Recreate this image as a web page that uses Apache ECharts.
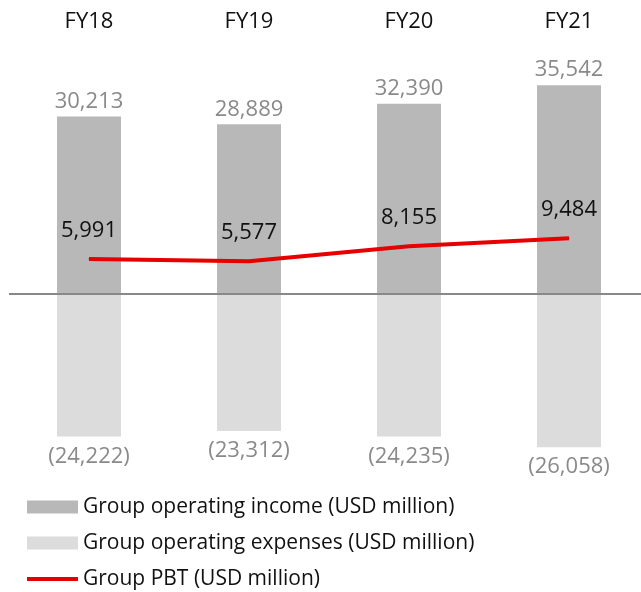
<!DOCTYPE html>
<html>
<head>
<meta charset="utf-8">
<script src="https://cdn.jsdelivr.net/npm/echarts@6/dist/echarts.min.js"></script>
<style>
  html, body { margin: 0; padding: 0; background: #ffffff; overflow: hidden; }
  #chart { width: 660px; height: 592px; }
</style>
</head>
<body>
<div id="chart"></div>
<script>
// 财年
const years = ['FY18', 'FY19', 'FY20', 'FY21']
// 营业收入 / 营业支出 / 税前利润 (USD million)
const income = [30213, 28889, 32390, 35542]
const expenses = [-24222, -23312, -24235, -26058]
const pbt = [5991, 5577, 8155, 9484]

const fmt = v => Math.abs(v).toLocaleString('en-US')
const font = '"Open Sans", sans-serif'
// 图例里的细红线（上下留透明小点，保证图标不被拉伸）
const lineIcon = 'path://M0,0h0.01v0.01h-0.01z M0,4.5H51V8.5H0Z M50.99,12.99h0.01v0.01h-0.01z'

const chart = echarts.init(document.getElementById('chart'), null, { renderer: 'canvas' })
chart.setOption({
    backgroundColor: '#ffffff',
    animation: false,
    textStyle: { fontFamily: font },
    // 画布比窗口略宽，最右一列的中心落在 569
    grid: { left: 9, width: 640, top: 59, bottom: 121.6 },
    legend: {
        orient: 'vertical',
        left: 27,
        top: 496,
        padding: 0,
        itemWidth: 51,
        itemHeight: 13,
        itemGap: 14,
        textStyle: { fontSize: 21, lineHeight: 22, color: '#111', fontFamily: font },
        data: [
            { name: 'Group operating income (USD million)', icon: 'rect' },
            { name: 'Group operating expenses (USD million)', icon: 'rect' },
            { name: 'Group PBT (USD million)', icon: lineIcon }
        ]
    },
    xAxis: {
        type: 'category',
        data: years,
        position: 'top',
        axisLine: { show: false },
        axisTick: { show: false },
        axisLabel: { fontSize: 22, color: '#111', margin: 26, fontFamily: font }
    },
    yAxis: {
        type: 'value',
        min: -30000,
        max: 40000,
        show: false,
        splitLine: { show: false }
    },
    series: [{
        name: 'Group operating income (USD million)',
        type: 'bar',
        data: income,
        barWidth: 64,
        barGap: '-100%',
        itemStyle: { color: '#b8b8b8' },
        label: {
            show: true, position: 'top', distance: 4,
            fontSize: 22, color: '#8a8a8a', fontFamily: font,
            formatter: p => fmt(p.value)
        },
        // 零线
        markLine: {
            silent: true,
            symbol: 'none',
            label: { show: false },
            lineStyle: { color: '#888', width: 2, type: 'solid' },
            data: [{ yAxis: 0 }]
        }
    }, {
        name: 'Group operating expenses (USD million)',
        type: 'bar',
        data: expenses,
        barWidth: 64,
        barGap: '-100%',
        itemStyle: { color: '#dcdcdc' },
        label: {
            show: true, position: 'bottom', distance: 9,
            fontSize: 22, color: '#8a8a8a', fontFamily: font,
            formatter: p => '(' + fmt(p.value) + ')'
        }
    }, {
        name: 'Group PBT (USD million)',
        type: 'line',
        data: pbt,
        symbol: 'circle',
        symbolSize: 1,
        showSymbol: true,
        z: 5,
        lineStyle: { color: '#e60000', width: 4 },
        itemStyle: { color: '#e60000' },
        label: {
            show: true, position: 'top', distance: 17,
            fontSize: 22, color: '#111', fontFamily: font,
            formatter: p => fmt(p.value)
        }
    }]
})
</script>
</body>
</html>
